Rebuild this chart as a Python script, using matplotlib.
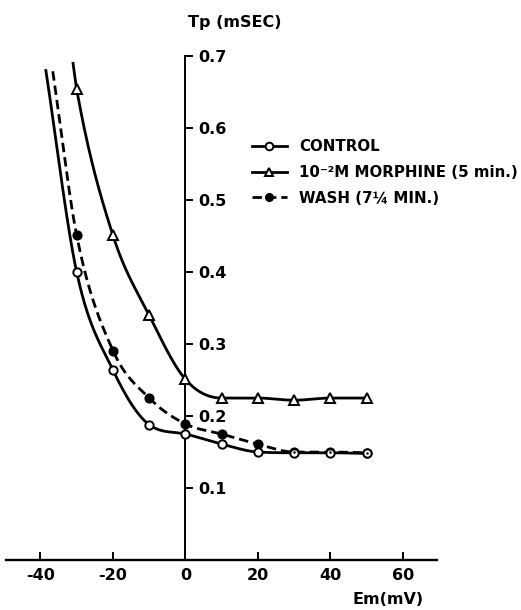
import matplotlib.pyplot as plt
import numpy as np

em = [-30, -20, -10, 0, 10, 20, 30, 40, 50]
control = [0.400, 0.264, 0.188, 0.175, 0.161, 0.150, 0.149, 0.149, 0.148]
morphine = [0.654, 0.451, 0.340, 0.251, 0.225, 0.225, 0.222, 0.225, 0.225]
wash = [0.451, 0.291, 0.225, 0.189, 0.175, 0.161, 0.150, 0.150, 0.149]

# where each hand-drawn curve starts (upper left end)
control_top = (-38.5, 0.680)
morphine_top = (-31.0, 0.690)
wash_top = (-36.6, 0.679)

x_ticks = [-40, -20, 0, 20, 40, 60]
x_labels = ['-40', '-20', '0', '20', '40', '60']
y_ticks = [0.1, 0.2, 0.3, 0.4, 0.5, 0.6, 0.7]

FONT = 'DejaVu Sans'


def smooth(xs, ys, n=400):
    # cubic hermite, averaged tangents limited so it stays monotone
    xs = np.asarray(xs, float)
    ys = np.asarray(ys, float)
    h = np.diff(xs)
    d = np.diff(ys) / h
    m = np.zeros_like(ys)
    m[0], m[-1] = d[0], d[-1]
    for i in range(1, len(xs) - 1):
        m[i] = (d[i - 1] + d[i]) / 2
    for i in range(len(d)):
        if d[i] == 0:
            m[i] = m[i + 1] = 0
            continue
        a, b = m[i] / d[i], m[i + 1] / d[i]
        if a < 0:
            m[i], a = 0, 0
        if b < 0:
            m[i + 1], b = 0, 0
        r = a * a + b * b
        if r > 9:
            t = 3 / np.sqrt(r)
            m[i] = t * a * d[i]
            m[i + 1] = t * b * d[i]
    xx = np.linspace(xs[0], xs[-1], n)
    idx = np.clip(np.searchsorted(xs, xx) - 1, 0, len(xs) - 2)
    t = (xx - xs[idx]) / h[idx]
    h00 = 2 * t**3 - 3 * t**2 + 1
    h10 = t**3 - 2 * t**2 + t
    h01 = -2 * t**3 + 3 * t**2
    h11 = t**3 - t**2
    yy = (h00 * ys[idx] + h10 * h[idx] * m[idx]
          + h01 * ys[idx + 1] + h11 * h[idx] * m[idx + 1])
    return xx, yy


fig = plt.figure(figsize=(5.21, 6.10), dpi=100)
ax = fig.add_axes([6 / 521, 1 - 560 / 610, 431 / 521, 560 / 610])
ax.set_xlim(-49.5, 69.4)
ax.set_ylim(0, 0.778)

lw = 2.0
ms = 6
dash = (0, (3.4, 1.8))

# curves
for ys, top, ls in [(control, control_top, '-'),
                    (morphine, morphine_top, '-'),
                    (wash, wash_top, dash)]:
    cx, cy = smooth([top[0]] + em, [top[1]] + ys)
    ax.plot(cx, cy, color='black', lw=lw, ls=ls, zorder=2)

# points: wash below control, a dot marks wash where they overlap
ax.plot(em, wash, ls='none', marker='o', ms=ms, mfc='black', mec='black',
        mew=1.3, zorder=3)
ax.plot(em, control, ls='none', marker='o', ms=ms, mfc='white', mec='black',
        mew=1.4, zorder=4)
ax.plot(em, wash, ls='none', marker='o', ms=1.8, mfc='black', mec='black',
        mew=0, zorder=5)
ax.plot(em, morphine, ls='none', marker='^', ms=ms + 0.5, mfc='white',
        mec='black', mew=1.4, zorder=4)

# legend handles
ax.plot([], [], color='black', lw=lw, marker='o', ms=ms - 0.5, mfc='white',
        mec='black', mew=1.4, label='CONTROL')
ax.plot([], [], color='black', lw=lw, marker='^', ms=ms, mfc='white',
        mec='black', mew=1.4, label='10⁻²M MORPHINE (5 min.)')
ax.plot([], [], color='black', lw=lw, ls=dash, marker='o', ms=ms - 0.5,
        mfc='black', mec='black', label='WASH (7¼ MIN.)')

for s in ['left', 'top']:
    ax.spines[s].set_visible(False)
ax.spines['right'].set_position(('data', 0))
ax.spines['right'].set_bounds(0, 0.7)
ax.spines['right'].set_linewidth(1.4)
ax.spines['bottom'].set_linewidth(1.7)
ax.yaxis.tick_right()
ax.set_yticks(y_ticks)
ax.set_yticklabels([f'{v:.1f}' for v in y_ticks])
ax.set_xticks(x_ticks)
ax.set_xticklabels(x_labels)
ax.tick_params(axis='y', direction='out', length=6, width=1.4, pad=3,
               labelsize=11.5)
ax.tick_params(axis='x', direction='in', length=6, width=1.4, pad=6,
               labelsize=11.5)
for lbl in ax.get_xticklabels() + ax.get_yticklabels():
    lbl.set_fontweight('bold')
    lbl.set_family(FONT)

fig.text(235 / 521, 1 - 23 / 610, 'Tp (mSEC)', ha='center', va='center',
         fontsize=11.5, fontweight='bold', family=FONT)
fig.text(388 / 521, 1 - 599 / 610, 'Em(mV)', ha='center', va='center',
         fontsize=11.5, fontweight='bold', family=FONT)

ax.legend(loc='upper left', bbox_to_anchor=(252 / 521, 1 - 139 / 610),
          bbox_transform=fig.transFigure, frameon=False, borderpad=0,
          borderaxespad=0, handlelength=2.3, handletextpad=0.85,
          labelspacing=0.72,
          prop={'family': FONT, 'weight': 'bold', 'size': 10.8})

plt.savefig('out.png', dpi=100)
plt.close()
